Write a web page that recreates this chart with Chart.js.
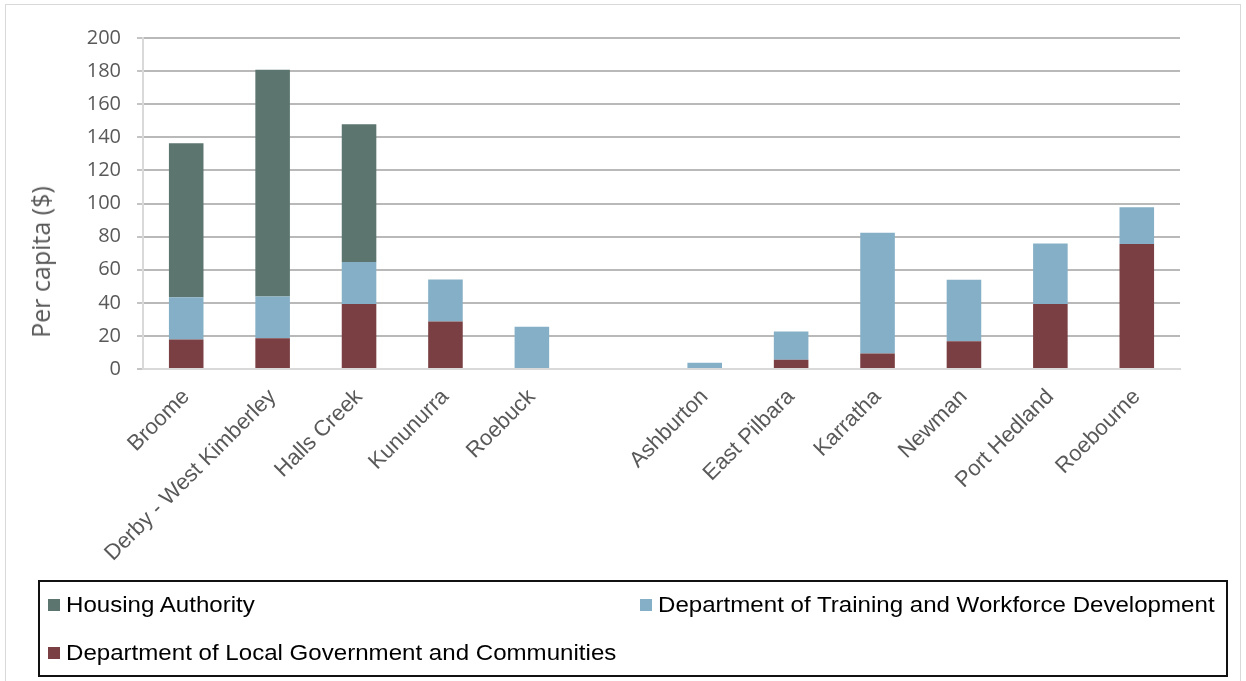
<!DOCTYPE html>
<html>
<head>
<meta charset="utf-8">
<script src="https://cdn.jsdelivr.net/npm/chart.js@4"></script>
<style>
  html, body { margin: 0; padding: 0; background: #fff; }
  body { width: 1246px; height: 681px; position: relative; overflow: hidden; }
  #frame { position: absolute; left: 5px; top: 4px; width: 1236px; height: 690px; border: 1px solid #d9d9d9; box-sizing: border-box; }
  #c { position: absolute; left: 0; top: 0; }
  #ytitle { position: absolute; left: 40px; top: 262px; transform: translate(-50%, -50%) rotate(-90deg);
            font-family: "Open Sans", sans-serif; font-size: 25px; color: #595959; white-space: nowrap; }
  #legend { position: absolute; left: 38px; top: 580px; width: 1190px; height: 97px; border: 2px solid #111;
            box-sizing: border-box; font-family: "Liberation Sans", Arial, sans-serif; font-size: 22px; color: #000; }
  .item { position: absolute; height: 24px; line-height: 24px; white-space: nowrap; }
  .sw { position: absolute; left: 0; top: 6px; width: 12px; height: 12px; }
  .lt { position: absolute; left: 18px; top: 0; transform: scaleX(1.095); transform-origin: left center; }
</style>
</head>
<body>
<div id="frame"></div>
<canvas id="c" width="1246" height="681"></canvas>
<div id="ytitle">Per capita ($)</div>
<div id="legend"></div>
<script>
const categories = ["Broome", "Derby - West Kimberley", "Halls Creek", "Kununurra", "Roebuck", "",
                    "Ashburton", "East Pilbara", "Karratha", "Newman", "Port Hedland", "Roebourne"];
const localGovernment = [17.9, 18.6, 39.2, 28.7, 0, null, 0, 5.6, 9.3, 16.7, 39.2, 75.5];
const trainingWorkforce = [25.5, 25.2, 25.4, 25.4, 25.6, null, 3.8, 17.0, 73.1, 37.2, 36.6, 22.3];
const housingAuthority = [93.0, 137.0, 83.3, 0, 0, null, 0, 0, 0, 0, 0, 0];
const yTicks = [0, 20, 40, 60, 80, 100, 120, 140, 160, 180, 200];

const names = {
  housing: "Housing Authority",
  training: "Department of Training and Workforce Development",
  local: "Department of Local Government and Communities"
};
const colors = { housing: "#5d756f", training: "#84afc6", local: "#793f42" };

const ctx = document.getElementById('c').getContext('2d');
new Chart(ctx, {
  type: 'bar',
  data: {
    labels: categories,
    datasets: [
      { label: names.local, data: localGovernment, backgroundColor: colors.local, stack: 's' },
      { label: names.training, data: trainingWorkforce, backgroundColor: colors.training, stack: 's' },
      { label: names.housing, data: housingAuthority, backgroundColor: colors.housing, stack: 's' }
    ]
  },
  options: {
    responsive: false,
    animation: false,
    events: [],
    layout: { padding: { top: 38, right: 66, left: 0, bottom: 0 } },
    datasets: { bar: { barPercentage: 0.4, categoryPercentage: 1.0 } },
    plugins: { legend: { display: false }, tooltip: { enabled: false } },
    scales: {
      x: {
        stacked: true,
        afterFit: s => { s.height = 312; },
        grid: { display: false, drawTicks: false },
        border: { display: true, color: '#d9d9d9', width: 2 },
        ticks: {
          autoSkip: false, minRotation: 45, maxRotation: 45, padding: 15,
          color: '#595959', font: { family: 'Liberation Sans', size: 22 }
        }
      },
      y: {
        stacked: true,
        min: 0, max: 200,
        afterFit: s => { s.width = 143; },
        afterBuildTicks: s => { s.ticks = yTicks.map(v => ({ value: v })); },
        grid: {
          color: c => (c.tick && c.tick.value === 0) ? 'rgba(0,0,0,0)' : '#b9b9b9',
          lineWidth: 2,
          tickColor: '#c4c4c4',
          tickLength: 6,
          drawTicks: true
        },
        border: { display: true, color: '#d9d9d9', width: 2 },
        ticks: {
          padding: 16, color: '#595959',
          font: { family: 'Open Sans', size: 20 }
        }
      }
    }
  }
});

const legend = document.getElementById('legend');
const items = [
  { key: 'housing', left: 8, top: 11 },
  { key: 'training', left: 600, top: 11 },
  { key: 'local', left: 8, top: 59 }
];
items.forEach(it => {
  const d = document.createElement('div');
  d.className = 'item';
  d.style.left = it.left + 'px';
  d.style.top = it.top + 'px';
  d.innerHTML = '<span class="sw" style="background:' + colors[it.key] + '"></span><span class="lt">' + names[it.key] + '</span>';
  legend.appendChild(d);
});
</script>
</body>
</html>
